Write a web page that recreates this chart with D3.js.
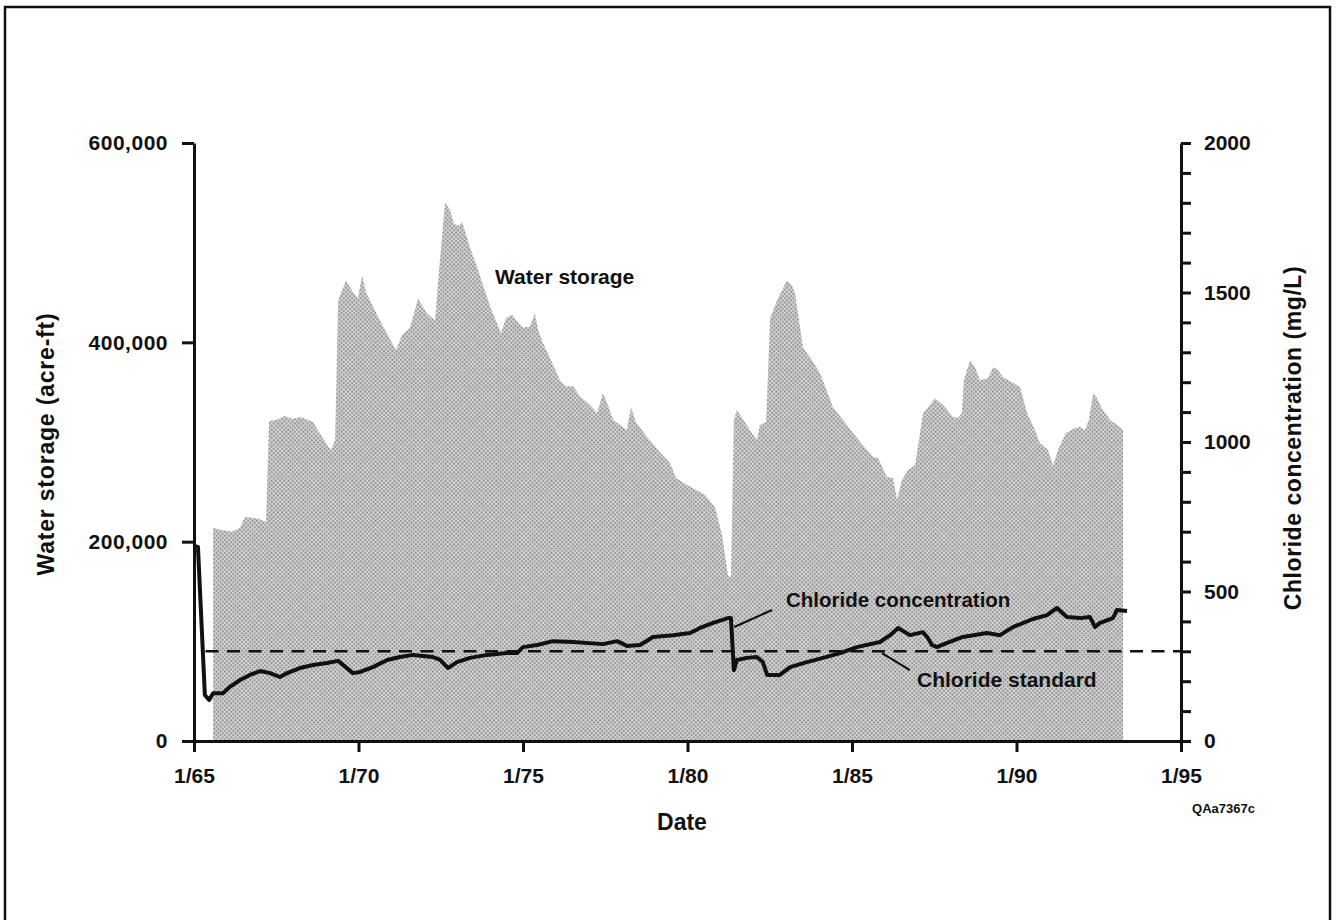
<!DOCTYPE html>
<html>
<head>
<meta charset="utf-8">
<script src="https://cdn.jsdelivr.net/npm/d3@7"></script>
<style>
  html, body { margin: 0; padding: 0; background: #fff; }
  svg { display: block; }
  text { font-family: "Liberation Sans", Arial, Helvetica, sans-serif; font-weight: bold; fill: #111; }
</style>
</head>
<body>
<svg id="chart" width="1339" height="920"></svg>
<script>
// ---------- DATA ----------
// Water storage (acre-ft), dates as decimal years
const storageDates = [1965.58,1965.79,1966.16,1966.40,1966.55,1966.95,1967.19,1967.28,1967.49,1967.77,1967.98,1968.22,1968.47,1968.62,1968.89,1969.16,1969.29,1969.38,1969.62,1969.80,1969.98,1970.11,1970.23,1970.65,1971.14,1971.32,1971.57,1971.81,1971.93,1972.08,1972.33,1972.42,1972.63,1972.78,1972.90,1973.05,1973.15,1973.39,1973.63,1974.00,1974.33,1974.48,1974.67,1974.85,1975.00,1975.21,1975.36,1975.46,1975.61,1975.88,1976.12,1976.31,1976.52,1976.73,1977.04,1977.25,1977.43,1977.58,1977.74,1977.95,1978.16,1978.28,1978.43,1978.77,1979.10,1979.47,1979.65,1980.08,1980.53,1980.84,1981.05,1981.23,1981.32,1981.41,1981.50,1981.66,1981.90,1982.11,1982.20,1982.39,1982.51,1982.72,1982.87,1983.02,1983.18,1983.27,1983.51,1983.78,1984.03,1984.42,1984.73,1985.03,1985.40,1985.64,1985.79,1986.06,1986.25,1986.37,1986.52,1986.70,1986.92,1987.16,1987.37,1987.52,1987.77,1988.07,1988.22,1988.34,1988.40,1988.59,1988.74,1988.89,1989.13,1989.29,1989.44,1989.59,1989.86,1990.11,1990.32,1990.56,1990.71,1990.96,1991.11,1991.26,1991.50,1991.78,1991.93,1992.08,1992.20,1992.33,1992.45,1992.57,1992.84,1993.15,1993.24];
const storageValues = [214000,212000,210000,214000,225000,223000,220000,321000,322000,326000,323000,325000,322000,320000,305000,292000,302000,442000,462000,452000,444000,467000,450000,422000,392000,407000,415000,444000,437000,429000,422000,461000,540000,533000,519000,517000,521000,495000,473000,436000,409000,424000,428000,420000,415000,416000,429000,412000,399000,380000,362000,356000,356000,346000,337000,329000,349000,337000,322000,317000,312000,335000,320000,305000,292000,279000,264000,255000,247000,234000,207000,166000,164000,322000,332000,324000,312000,302000,317000,320000,424000,442000,452000,462000,457000,449000,395000,382000,369000,335000,322000,309000,294000,285000,284000,265000,264000,242000,262000,272000,277000,329000,337000,344000,337000,325000,324000,329000,362000,382000,375000,362000,364000,375000,372000,365000,360000,355000,329000,312000,299000,292000,276000,292000,309000,314000,315000,312000,322000,349000,344000,335000,322000,315000,312000];

// Chloride concentration (mg/L)
const chlorideDates = [1965.00,1965.12,1965.33,1965.46,1965.58,1965.88,1966.09,1966.40,1966.70,1967.01,1967.31,1967.61,1967.83,1968.22,1968.62,1969.04,1969.38,1969.83,1970.05,1970.44,1970.87,1971.26,1971.66,1972.26,1972.48,1972.72,1972.99,1973.39,1973.91,1974.51,1974.82,1975.00,1975.43,1975.91,1976.52,1977.43,1977.86,1978.16,1978.56,1978.95,1979.56,1980.08,1980.38,1980.78,1981.23,1981.32,1981.41,1981.50,1981.81,1982.11,1982.29,1982.42,1982.81,1983.12,1983.63,1984.12,1984.64,1985.15,1985.85,1986.16,1986.40,1986.76,1987.16,1987.31,1987.43,1987.58,1987.89,1988.37,1989.10,1989.50,1989.89,1990.50,1990.93,1991.23,1991.53,1991.93,1992.23,1992.39,1992.54,1992.93,1993.05,1993.36];
const chlorideValues = [652,649,154,137,160,160,181,204,221,234,227,214,227,244,254,261,268,227,231,247,271,281,288,281,271,244,264,278,288,294,294,314,321,334,331,324,334,318,321,348,354,361,378,395,411,411,237,271,278,281,264,221,221,247,264,278,294,314,331,354,378,354,364,344,321,314,328,348,361,354,381,408,421,445,415,411,415,381,395,411,438,435];

const chlorideStandard = 300;

// Axis ticks
const xTickYears = [1965, 1970, 1975, 1980, 1985, 1990, 1995];
const storageTicks = [0, 200000, 400000, 600000];
const chlorideTicks = d3.range(0, 2001, 100);
const chlorideLabelTicks = [0, 500, 1000, 1500, 2000];

// ---------- CHART ----------
const svg = d3.select("#chart");

const x = d3.scaleLinear().domain([1965, 1995]).range([194, 1181]);
const yL = d3.scaleLinear().domain([0, 600000]).range([741, 143]);
const yR = d3.scaleLinear().domain([0, 2000]).range([741, 143]);

// frame
svg.append("rect")
  .attr("x", 5).attr("y", 7).attr("width", 1325).attr("height", 940)
  .attr("fill", "none").attr("stroke", "#111").attr("stroke-width", 2.5);

// halftone pattern
const defs = svg.append("defs");
const pat = defs.append("pattern")
  .attr("id", "halftone").attr("patternUnits", "userSpaceOnUse")
  .attr("width", 3).attr("height", 3)
  .attr("patternTransform", "rotate(45)");
pat.append("rect").attr("width", 3).attr("height", 3).attr("fill", "#d6d6d6");
pat.append("rect").attr("width", 1.7).attr("height", 1.7).attr("fill", "#808080");

const storageData = storageDates.map((d, i) => ({ t: d, v: storageValues[i] }));
const chlorideData = chlorideDates.map((d, i) => ({ t: d, v: chlorideValues[i] }));

// water storage area
svg.append("path")
  .datum(storageData)
  .attr("fill", "url(#halftone)")
  .attr("d", d3.area().x(d => x(d.t)).y0(yL(0)).y1(d => yL(d.v)));

// chloride standard dashed line
svg.append("line")
  .attr("x1", x(1965.35)).attr("x2", x(1995))
  .attr("y1", yR(chlorideStandard)).attr("y2", yR(chlorideStandard))
  .attr("stroke", "#111").attr("stroke-width", 2.6)
  .attr("stroke-dasharray", "13,8.5");

// chloride concentration line
svg.append("path")
  .datum(chlorideData)
  .attr("fill", "none").attr("stroke", "#111")
  .attr("stroke-width", 4).attr("stroke-linejoin", "round")
  .attr("d", d3.line().x(d => x(d.t)).y(d => yR(d.v)));

// axes
const fmtX = d => "1/" + String(d).slice(2);
const axX = svg.append("g").attr("transform", `translate(0,${yL(0)})`)
  .call(d3.axisBottom(x).tickValues(xTickYears).tickFormat(fmtX)
        .tickSize(11).tickSizeOuter(0).tickPadding(16));

const axL = svg.append("g").attr("transform", `translate(${x(1965)},0)`)
  .call(d3.axisLeft(yL).tickValues(storageTicks).tickFormat(d3.format(","))
        .tickSize(12).tickSizeOuter(0).tickPadding(14));

const axR = svg.append("g").attr("transform", `translate(${x(1995)},0)`)
  .call(d3.axisRight(yR).tickValues(chlorideTicks)
        .tickFormat(d => chlorideLabelTicks.includes(d) ? d : "")
        .tickSize(10).tickSizeOuter(0).tickPadding(13));

[axX, axL, axR].forEach(g => {
  g.select(".domain").attr("stroke", "#111").attr("stroke-width", 3);
  g.selectAll(".tick line").attr("stroke", "#111").attr("stroke-width", 3);
  g.selectAll(".tick text")
    .attr("font-family", "'Liberation Sans', Arial, sans-serif")
    .attr("font-weight", "bold").attr("font-size", 21).attr("fill", "#111");
});
axL.selectAll(".tick text").attr("letter-spacing", 0.5);

// axis titles
svg.append("text")
  .attr("transform", `translate(54,${(yL(0) + yL(600000)) / 2 + 2}) rotate(-90)`)
  .attr("text-anchor", "middle").attr("font-size", 23)
  .attr("letter-spacing", 0.8)
  .text("Water storage (acre-ft)");

svg.append("text")
  .attr("transform", `translate(1301,${(yR(0) + yR(2000)) / 2 - 4}) rotate(-90)`)
  .attr("text-anchor", "middle").attr("font-size", 23)
  .attr("letter-spacing", 0.55)
  .text("Chloride concentration (mg/L)");

svg.append("text")
  .attr("x", 682).attr("y", 830)
  .attr("text-anchor", "middle").attr("font-size", 23)
  .text("Date");

svg.append("text")
  .attr("x", 1255).attr("y", 813)
  .attr("text-anchor", "end").attr("font-size", 13)
  .text("QAa7367c");

// annotations
svg.append("text")
  .attr("x", 495).attr("y", 284).attr("font-size", 21)
  .text("Water storage");

svg.append("text")
  .attr("x", 786).attr("y", 607).attr("font-size", 20.5)
  .text("Chloride concentration");

svg.append("line")
  .attr("x1", x(1981.42)).attr("y1", yR(381))
  .attr("x2", x(1982.57)).attr("y2", yR(438))
  .attr("stroke", "#111").attr("stroke-width", 2.2);

svg.append("text")
  .attr("x", 917).attr("y", 687).attr("font-size", 21)
  .text("Chloride standard");

svg.append("line")
  .attr("x1", x(1985.91)).attr("y1", yR(294))
  .attr("x2", x(1986.76)).attr("y2", yR(237))
  .attr("stroke", "#111").attr("stroke-width", 2.2);
</script>
</body>
</html>
